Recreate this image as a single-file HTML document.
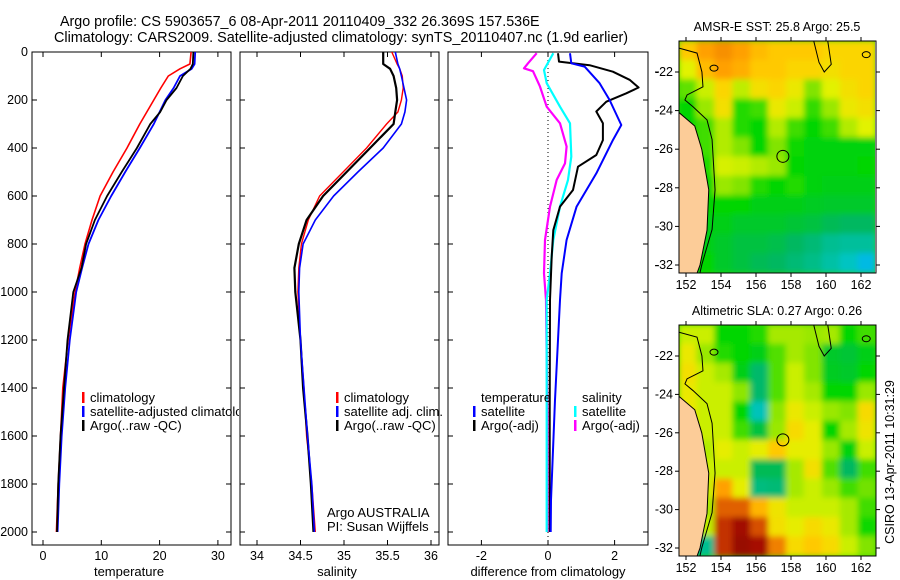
<!DOCTYPE html>
<html><head><meta charset="utf-8"><style>
html,body{margin:0;padding:0;background:#fff}
svg{display:block;font-family:"Liberation Sans",Arial,sans-serif}
</style></head><body>
<svg id="fig" width="900" height="580" viewBox="0 0 900 580">
<defs>
<clipPath id="c1"><rect x="32" y="52" width="199" height="493"/></clipPath>
<clipPath id="c2"><rect x="240" y="52" width="199" height="493"/></clipPath>
<clipPath id="c3"><rect x="448" y="52" width="200" height="493"/></clipPath>
<clipPath id="cl1"><rect x="32" y="52" width="207" height="493"/></clipPath>
<clipPath id="cm1"><rect x="679" y="41" width="196" height="232"/></clipPath>
<clipPath id="cm2"><rect x="679" y="325" width="197" height="231"/></clipPath>
<filter id="bl" x="-5%" y="-5%" width="110%" height="110%"><feGaussianBlur stdDeviation="3"/></filter>
</defs>
<text x="60" y="26" font-size="14.3">Argo profile: CS 5903657_6 08-Apr-2011 20110409_332 26.369S 157.536E</text>
<text x="54" y="42" font-size="14.4">Climatology: CARS2009. Satellite-adjusted climatology: synTS_20110407.nc (1.9d earlier)</text>
<g id="axes"></g>
<g id="plots"></g>
<g id="maps"></g>
<text transform="translate(894,462) rotate(-90)" font-size="12.5" text-anchor="middle">CSIRO 13-Apr-2011 10:31:29</text>
</svg>
<script>
// ---------- profile data ----------
const depthT = [0,50,70,100,150,200,250,300,400,500,600,700,800,900,1000,1200,1400,1600,1800,2000];
const tempClim = [25.4,25.2,23.5,21.5,20.2,19.0,17.8,16.6,14.4,12.0,9.8,8.4,7.2,6.3,5.5,4.3,3.4,3.0,2.6,2.3];
const tempSat  = [26.1,26.0,25.5,23.5,22.4,21.0,20.0,19.0,16.6,14.1,11.7,9.5,7.8,6.7,5.7,4.6,3.8,3.2,2.8,2.5];
const tempArgo = [25.8,25.7,25.3,24.0,22.9,21.2,20.1,18.4,16.1,13.5,11.0,8.9,7.4,6.6,5.2,4.2,3.6,3.0,2.6,2.4];
const salClim = [35.55,35.61,35.64,35.67,35.68,35.66,35.62,35.49,35.26,34.99,34.72,34.59,34.51,34.48,34.47,34.50,34.54,34.57,34.63,34.67];
const salSat  = [35.59,35.62,35.64,35.66,35.69,35.72,35.70,35.66,35.45,35.16,34.88,34.67,34.53,34.49,34.48,34.50,34.54,34.58,34.63,34.66];
const salArgo = [35.45,35.45,35.53,35.57,35.60,35.61,35.59,35.57,35.30,35.03,34.76,34.57,34.48,34.43,34.44,34.50,34.53,34.58,34.62,34.65];
const depthDT = [5,47,61,130,200,304,367,506,644,783,922,1033,1450,1867,2000];
const diffTempSat = [0.66,0.70,1.10,1.55,1.85,2.20,1.95,1.45,0.86,0.56,0.41,0.36,0.21,0.09,0.08];
const depthDA = [5,40,55,82,116,148,172,207,248,297,367,429,478,575,644,742,853,1033,1500,2000];
const diffTempArgo = [0.30,0.33,1.25,1.95,2.45,2.72,2.35,1.75,1.45,1.65,1.65,1.45,0.90,0.75,0.36,0.16,0.11,0.06,0.05,0.05];
const depthDS = [5,75,130,228,297,436,533,644,783,922,1033,1500,2000];
const diffSalSat = [0.16,-0.12,-0.04,0.36,0.66,0.70,0.60,0.36,0.16,0.06,-0.04,-0.04,-0.04];
const depthDM = [5,47,68,80,144,228,297,394,464,533,644,783,922,1033,1500,2000];
const diffSalArgo = [-0.34,-0.60,-0.72,-0.45,-0.24,-0.04,0.36,0.56,0.51,0.26,0.06,-0.09,-0.12,-0.06,-0.02,-0.02];
const depthTicks = [0,200,400,600,800,1000,1200,1400,1600,1800,2000];
const tempTicks = [0,10,20,30];
const salTicks = [34,34.5,35,35.5,36];
const diffTicks = [-2,0,2];
// ---------- map data (rows: lat -20.9 .. -31.9, cols: lon 152 .. 162.8) ----------
const sstGrid = [
[.66,.72,.74,.72,.68,.66,.66,.66,.64,.64,.64],
[.58,.68,.72,.70,.66,.66,.64,.64,.62,.64,.64],
[.48,.56,.64,.55,.62,.64,.60,.50,.58,.62,.64],
[.42,.52,.62,.44,.46,.60,.56,.45,.52,.60,.62],
[.42,.46,.54,.44,.42,.54,.46,.42,.46,.54,.58],
[.42,.46,.54,.50,.42,.50,.43,.41,.41,.41,.41],
[.42,.44,.57,.56,.54,.52,.42,.41,.41,.41,.42],
[.42,.42,.52,.50,.44,.42,.44,.41,.40,.40,.40],
[.42,.42,.42,.42,.40,.40,.40,.39,.38,.38,.38],
[.41,.40,.40,.38,.38,.38,.37,.36,.34,.33,.33],
[.41,.40,.38,.36,.36,.35,.33,.31,.28,.27,.27],
[.42,.42,.38,.36,.34,.33,.31,.29,.26,.23,.18]];
const slaGrid = [
[.56,.56,.42,.42,.44,.53,.53,.52,.53,.42,.46],
[.60,.52,.44,.42,.40,.47,.53,.50,.38,.37,.40],
[.62,.56,.53,.40,.32,.47,.56,.50,.39,.38,.42],
[.60,.56,.56,.51,.32,.47,.56,.53,.42,.42,.52],
[.60,.56,.56,.42,.24,.51,.60,.56,.52,.50,.63],
[.58,.56,.56,.46,.36,.52,.63,.59,.42,.53,.61],
[.56,.54,.59,.56,.59,.66,.59,.59,.52,.41,.56],
[.56,.56,.56,.56,.34,.34,.53,.62,.47,.33,.46],
[.56,.56,.72,.59,.30,.31,.53,.56,.52,.46,.49],
[.53,.53,.80,.80,.69,.61,.56,.56,.56,.53,.46],
[.50,.55,.86,.93,.82,.62,.59,.63,.60,.53,.43],
[.40,.28,.86,.95,.92,.76,.63,.66,.63,.56,.50]];
const landLon = [151.5,151.6,152.5,152.9,153.3,153.2,152.8,152.6,151.5];
const landLat = [-24.1,-24.1,-24.8,-26.0,-28.1,-30.2,-32.0,-32.5,-32.5];
const coastLon = [151.6,152.63,152.91,152.97,152.06,151.94,152.4,153.2,153.49,153.66,153.49,152.91,152.8];
const coastLat = [-20.76,-21.02,-22.0,-22.77,-23.19,-23.45,-23.8,-24.48,-25.5,-28.1,-30.16,-31.96,-32.4];
const argoLon = 157.536, argoLat = -26.369;
const mapLonTicks = [152,154,156,158,160,162];
const mapLatTicks = [-22,-24,-26,-28,-30,-32];

const NS='http://www.w3.org/2000/svg';
function mk(tag,attrs,parent,text){const e=document.createElementNS(NS,tag);for(const k in attrs)e.setAttribute(k,attrs[k]);if(text!==undefined)e.textContent=text;parent.appendChild(e);return e;}
const axesG=document.getElementById('axes'), plotsG=document.getElementById('plots'), mapsG=document.getElementById('maps');
const yD = d => 52 + d*0.24;
const xT = v => 43 + v*5.83;
const xS = v => 257 + (v-34)*87;
const xDf = v => 548 + v*33.3;

function panel(name,x0,x1,xs,ticks,fmt,label,cx,ylabels){
  const g=mk('g',{},axesG);
  
  
  mk('rect',{x:x0,y:52,width:x1-x0,height:493,fill:'none',stroke:'#000','stroke-width':1},g);
  ticks.forEach(t=>{const x=xs(t);
    mk('line',{x1:x,y1:52,x2:x,y2:57,stroke:'#000'},g);
    mk('line',{x1:x,y1:545,x2:x,y2:540,stroke:'#000'},g);
    const tl=mk('text',{x:x,y:560,'font-size':12.5,'text-anchor':'middle'},g,fmt(t));
    
    
  });
  depthTicks.forEach(d=>{const y=yD(d);
    mk('line',{x1:x0,y1:y,x2:x0+5,y2:y,stroke:'#000'},g);
    mk('line',{x1:x1,y1:y,x2:x1-5,y2:y,stroke:'#000'},g);
    if(ylabels){const tl=mk('text',{x:28,y:y+4,'font-size':12.5,'text-anchor':'end'},g,String(d));
      
      }
  });
  const xl=mk('text',{x:cx,y:576,'font-size':13,'text-anchor':'middle'},g,label);
  
  
}
panel('temperature',32,231,xT,tempTicks,String,'temperature',129,true);
panel('salinity',240,439,xS,salTicks,String,'salinity',337,false);
panel('difference',448,648,xDf,diffTicks,String,'difference from climatology',548,false);
mapLatTicks.forEach(la=>{const y=72+(-22-la)*19.37; mk('line',{x1:655,y1:y,x2:659,y2:y,stroke:'#000'},axesG);});
const zl=mk('line',{x1:xDf(0),y1:52,x2:xDf(0),y2:545,stroke:'#000','stroke-dasharray':'1,3'},plotsG);



function series(name,depths,vals,xs,color,w,clip){
  const pts=depths.map((d,i)=>xs(vals[i]).toFixed(1)+','+yD(d).toFixed(1)).join(' ');
  const p=mk('polyline',{points:pts,fill:'none',stroke:color,'stroke-width':w,'clip-path':'url(#'+clip+')','stroke-linejoin':'round'},plotsG);
  
  
}
series('temp-climatology-line',depthT,tempClim,xT,'#f00',1.6,'c1');
series('temp-satellite-line',depthT,tempSat,xT,'#00f',1.8,'c1');
series('temp-argo-line',depthT,tempArgo,xT,'#000',1.8,'c1');
series('sal-climatology-line',depthT,salClim,xS,'#f00',1.4,'c2');
series('sal-argo-line',depthT,salArgo,xS,'#000',2.2,'c2');
series('sal-satellite-line',depthT,salSat,xS,'#00f',1.6,'c2');
series('diff-sal-argo-line',depthDM,diffSalArgo,xDf,'#f0f',2.2,'c3');
series('diff-sal-sat-line',depthDS,diffSalSat,xDf,'#0ff',2.2,'c3');
series('diff-temp-argo-line',depthDA,diffTempArgo,xDf,'#000',2,'c3');
series('diff-temp-sat-line',depthDT,diffTempSat,xDf,'#00f',2,'c3');

function legend(name,x,y,color,text,clip){
  const g=mk('g',clip?{'clip-path':'url(#'+clip+')'}:{},plotsG);
  
  
  if(color) mk('rect',{x:x-8,y:y-10,width:2.5,height:11,fill:color},g);
  mk('text',{x:x,y:y,'font-size':13},g,text);
}
legend('legend-climatology',90,402,'#f00','climatology');
legend('legend-satellite-adjusted',90,416,'#00f','satellite-adjusted climatology','cl1');
legend('legend-argo',90,430,'#000','Argo(..raw -QC)');
legend('legend-sal-climatology',344,402,'#f00','climatology');
legend('legend-sal-satellite',344,416,'#00f','satellite adj. clim.');
legend('legend-sal-argo',344,430,'#000','Argo(..raw -QC)');
legend('argo-australia-label',327,517,null,'Argo AUSTRALIA');
legend('pi-label',327,531,null,'PI: Susan Wijffels');
legend('legend-temperature-heading',481,402,null,'temperature');
legend('legend-diff-temp-sat',481,416,'#00f','satellite');
legend('legend-diff-temp-argo',481,430,'#000','Argo(-adj)');
legend('legend-salinity-heading',582,402,null,'salinity');
legend('legend-diff-sal-sat',582,416,'#0ff','satellite');
legend('legend-diff-sal-argo',582,430,'#f0f','Argo(-adj)');

// ---------- maps ----------
const stops=[[0,[0,64,255]],[.2,[0,200,224]],[.33,[0,184,96]],[.42,[0,214,0]],[.5,[130,228,0]],[.58,[226,242,0]],[.65,[255,208,0]],[.72,[255,160,0]],[.8,[224,96,0]],[.9,[176,16,0]],[1,[128,0,0]]];
function cmap(v){for(let i=1;i<stops.length;i++){if(v<=stops[i][0]){const a=stops[i-1],b=stops[i],t=(v-a[0])/(b[0]-a[0]);return 'rgb('+a[1].map((c,k)=>Math.round(c+(b[1][k]-c)*t)).join(',')+')';}}return 'rgb(128,0,0)';}
function drawMap(name,grid,top,bottom,title,clip){
  const left=679,right=876;
  const lonX=lo=>686+(lo-152)*17.5;
  const latY=la=>top+31+(-22-la)*((bottom-top-8-31)/10);
  const g=mk('g',{},mapsG);
  
  
  const cg=mk('g',{'clip-path':'url(#'+clip+')'},g);
  mk('rect',{x:left,y:top,width:right-left,height:bottom-top,fill:cmap(0.45)},cg);
  const hg=mk('g',{filter:'url(#bl)'},cg);
  const nr=grid.length,nc=grid[0].length,cw=(right-left)/nc,ch=(bottom-top)/nr;
  grid.forEach((row,r)=>row.forEach((v,c)=>{
    const cell=mk('rect',{x:left+c*cw-0.5,y:top+r*ch-0.5,width:cw+1,height:ch+1,fill:cmap(v)},hg);
    
    
  }));
  const lp=landLon.map((lo,i)=>lonX(lo)+','+latY(landLat[i])).join(' ');
  const land=mk('polygon',{points:lp,fill:'#fccc98',stroke:'#000','stroke-width':1},cg);
  
  
  const cp=coastLon.map((lo,i)=>lonX(lo)+','+latY(coastLat[i])).join(' ');
  mk('polyline',{points:cp,fill:'none',stroke:'#000','stroke-width':1},cg);
  mk('polyline',{points:[lonX(159.3),top,lonX(159.6),latY(-21.5),lonX(159.9),latY(-22),lonX(160.3),latY(-21.6),lonX(160.1),top].join(' '),fill:'none',stroke:'#000'},cg);
  mk('ellipse',{cx:lonX(153.6),cy:latY(-21.8),rx:4,ry:3,fill:'none',stroke:'#000'},cg);
  mk('ellipse',{cx:lonX(162.3),cy:latY(-21.1),rx:4,ry:3,fill:'none',stroke:'#000'},cg);
  const circ=mk('circle',{cx:lonX(argoLon),cy:latY(argoLat),r:6,fill:'none',stroke:'#000','stroke-width':1},g);
  
  
  mk('rect',{x:left,y:top,width:right-left,height:bottom-top,fill:'none',stroke:'#000'},g);
  mapLonTicks.forEach(lo=>{const x=lonX(lo);
    mk('line',{x1:x,y1:top,x2:x,y2:top-4,stroke:'#000'},g);
    mk('line',{x1:x,y1:bottom,x2:x,y2:bottom+4,stroke:'#000'},g);
    const t=mk('text',{x:x,y:bottom+16,'font-size':12.5,'text-anchor':'middle'},g,String(lo));
    
    
  });
  mapLatTicks.forEach(la=>{const y=latY(la);
    mk('line',{x1:left,y1:y,x2:left-4,y2:y,stroke:'#000'},g);
    mk('line',{x1:right,y1:y,x2:right+4,y2:y,stroke:'#000'},g);
    const t=mk('text',{x:673,y:y+4,'font-size':12.5,'text-anchor':'end'},g,String(la));
    
    
  });
  const tt=mk('text',{x:777,y:top-10,'font-size':12.5,'text-anchor':'middle'},g,title);
  
  
}
drawMap('sst-map',sstGrid,41,273,'AMSR-E SST: 25.8 Argo: 25.5','cm1');
drawMap('sla-map',slaGrid,325,556,'Altimetric SLA: 0.27 Argo: 0.26','cm2');
</script>
</body></html>
